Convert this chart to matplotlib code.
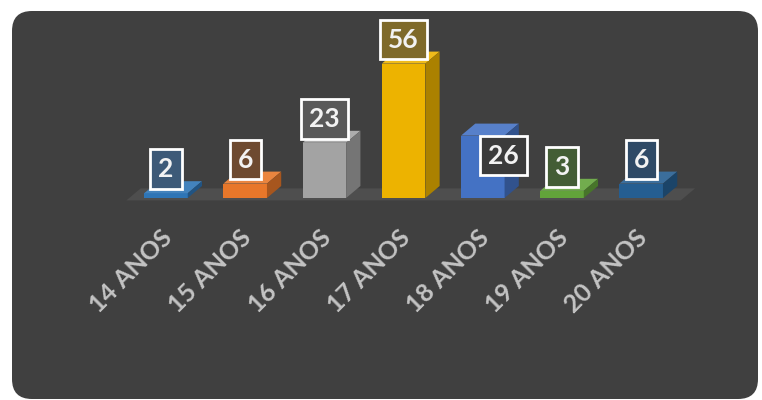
import matplotlib
matplotlib.use('Agg')
import matplotlib.pyplot as plt
from matplotlib.patches import Polygon, FancyBboxPatch
from matplotlib.colors import to_rgb

plt.rcParams['font.family'] = ['Lato', 'DejaVu Sans']

# dados
categorias = ['14 ANOS', '15 ANOS', '16 ANOS', '17 ANOS', '18 ANOS', '19 ANOS', '20 ANOS']
valores = [2, 6, 23, 56, 26, 3, 6]
cores = ['#2E75B6', '#E8772A', '#A3A3A3', '#EDB300', '#4472C4', '#62A33A', '#255E91']
cores_rotulo = ['#3d5a78', '#6e4a30', '#595959', '#7f6a2a', '#3b3b3b', '#435d35', '#2f4a66']


def escurecer(c, f):
    r, g, b = to_rgb(c)
    return (r * f, g * f, b * f)


def clarear(c, f):
    r, g, b = to_rgb(c)
    return (r + (1 - r) * f, g + (1 - g) * f, b + (1 - b) * f)


fig = plt.figure(figsize=(7.62, 4), dpi=100)
fig.patch.set_facecolor('white')

# fundo arredondado
bg = fig.add_axes([0, 0, 1, 1])
bg.set_xlim(0, 762)
bg.set_ylim(400, 0)
bg.axis('off')
bg.add_patch(FancyBboxPatch((12, 11), 746, 388, boxstyle='round,pad=0,rounding_size=20',
                            fc='#404040', ec='none'))

ax = fig.add_axes([100 / 762, 185 / 400, 620 / 762, 200 / 400])
ax.patch.set_alpha(0)
ax.axis('off')
ax.set_xlim(-0.833, 6.995)
ax.set_ylim(-7.08, 76.25)

x = list(range(len(valores)))
w = 0.55
dx, dy = 0.18, 5.0

# piso
n = len(valores)
y0 = -1.0
ax.add_patch(Polygon([(-0.5, y0), (n - 0.5, y0), (n - 0.5 + dx, y0 + dy), (-0.5 + dx, y0 + dy)],
                     closed=True, fc='#4e4e4e', ec='none', zorder=1))

# barras 3D
ax.bar(x, valores, width=w, color=cores, zorder=3)
for xi, v, c in zip(x, valores, cores):
    topo = [(xi - w / 2, v), (xi + w / 2, v), (xi + w / 2 + dx, v + dy), (xi - w / 2 + dx, v + dy)]
    lado = [(xi + w / 2, 0), (xi + w / 2 + dx, dy), (xi + w / 2 + dx, v + dy), (xi + w / 2, v)]
    ax.add_patch(Polygon(topo, closed=True, fc=clarear(c, 0.1), ec='none', zorder=3))
    ax.add_patch(Polygon(lado, closed=True, fc=escurecer(c, 0.72), ec='none', zorder=3))

# rótulos de dados
fs = 19
pad = 0.3
for i, (xi, v) in enumerate(zip(x, valores)):
    if i == 4:
        va, off = 'top', (15, -pad * fs)
    else:
        va, off = 'bottom', (0, pad * fs + 3)
    ax.annotate(str(v), xy=(xi, v), xytext=off, textcoords='offset points',
                ha='center', va=va, fontsize=fs, fontweight='bold', color='#f2f2f2', zorder=5,
                bbox=dict(boxstyle='square,pad=%s' % pad, fc=cores_rotulo[i], ec='white', lw=2))

# rótulos do eixo
for xi, cat in zip(x, categorias):
    ax.annotate(cat, xy=(xi, 0), xytext=(-4, -20), textcoords='offset points',
                ha='right', va='top', rotation=45, rotation_mode='anchor',
                fontsize=18, fontweight='bold', color='#c4c4c4', annotation_clip=False)

plt.savefig('out.png', dpi=100, facecolor='white')
